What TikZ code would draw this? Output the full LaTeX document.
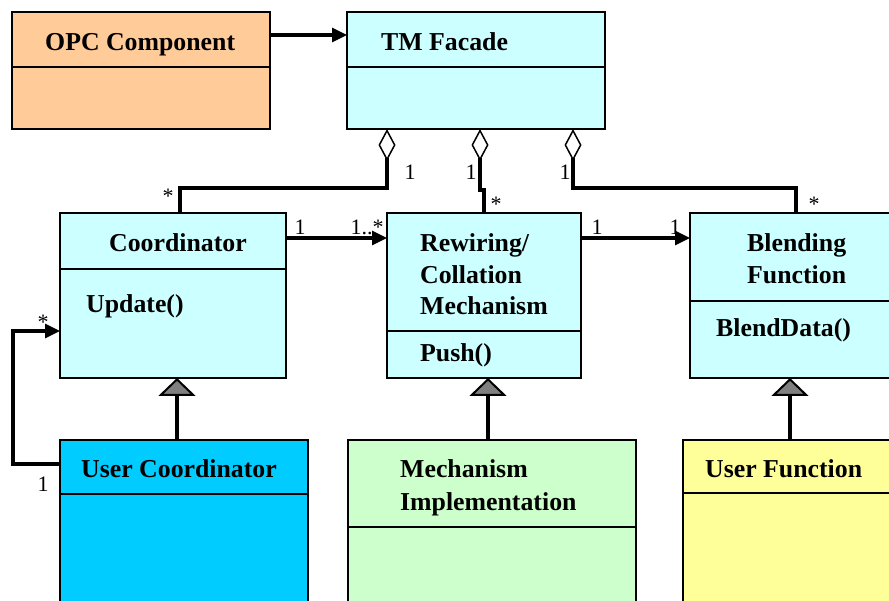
\documentclass[tikz,border=0pt]{standalone}
\usepackage{fontspec}
\setmainfont{Liberation Serif}
\usetikzlibrary{arrows.meta}

\definecolor{paleCyan}{HTML}{CCFFFF}
\definecolor{peach}{HTML}{FFCC99}
\definecolor{skyBlue}{HTML}{00CCFF}
\definecolor{paleGreen}{HTML}{CCFFCC}
\definecolor{paleYellow}{HTML}{FFFF99}
\definecolor{tipGray}{HTML}{808080}

\tikzset{
  classbox/.style={draw=black, line width=1.5pt, rectangle, anchor=north west,
                   inner sep=0pt, outer sep=0pt},
  divider/.style={line width=2pt},
  title/.style={font=\fontsize{25.8}{30}\selectfont\bfseries, anchor=base west, inner sep=0pt},
  mult/.style={font=\fontsize{22}{26}\selectfont, anchor=base, inner sep=0pt},
  link/.style={line width=3.2pt},
  assoc/.style={link, -{Triangle[length=15pt, width=14pt]}},
  aggr/.style={link, -{Diamond[open, length=32pt, width=17pt, line width=1.5pt]}},
  inherit/.style={link, -{Triangle[length=18pt, width=37pt, fill=tipGray, line width=2pt]}},
}

\begin{document}
\begin{tikzpicture}[x=1pt, y=-1pt]
  \useasboundingbox (0,0) rectangle (889,601);
  \clip (0,0) rectangle (889,601);
  \fill[white] (0,0) rectangle (889,601);

  % class boxes
  \node[classbox, fill=peach,      minimum width=258pt, minimum height=117pt] (opc)    at (12,12)   {};
  \node[classbox, fill=paleCyan,   minimum width=258pt, minimum height=117pt] (tm)     at (347,12)  {};
  \node[classbox, fill=paleCyan,   minimum width=226pt, minimum height=165pt] (coord)  at (60,213)  {};
  \node[classbox, fill=paleCyan,   minimum width=194pt, minimum height=165pt] (rew)    at (387,213) {};
  \node[classbox, fill=paleCyan,   minimum width=240pt, minimum height=165pt] (blend)  at (690,213) {};
  \node[classbox, fill=skyBlue,    minimum width=248pt, minimum height=200pt] (ucoord) at (60,440)  {};
  \node[classbox, fill=paleGreen,  minimum width=288pt, minimum height=200pt] (mech)   at (348,440) {};
  \node[classbox, fill=paleYellow, minimum width=240pt, minimum height=200pt] (ufunc)  at (683,440) {};

  % compartment dividers
  \draw[divider] ([yshift=-55pt]opc.north west)    -- ([yshift=-55pt]opc.north east);
  \draw[divider] ([yshift=-55pt]tm.north west)     -- ([yshift=-55pt]tm.north east);
  \draw[divider] ([yshift=-56pt]coord.north west)  -- ([yshift=-56pt]coord.north east);
  \draw[divider] ([yshift=-118pt]rew.north west)   -- ([yshift=-118pt]rew.north east);
  \draw[divider] ([yshift=-88pt]blend.north west)  -- ([yshift=-88pt]blend.north east);
  \draw[divider] ([yshift=-54pt]ucoord.north west) -- ([yshift=-54pt]ucoord.north east);
  \draw[divider] ([yshift=-87pt]mech.north west)   -- ([yshift=-87pt]mech.north east);
  \draw[divider] ([yshift=-53pt]ufunc.north west)  -- ([yshift=-53pt]ufunc.north east);

  % class names and operations
  \node[title] (opcT)   at (45,51)   {OPC Component};
  \node[title] (tmT)    at (381,51)  {TM Facade};
  \node[title] (coordT) at (109,252) {Coordinator};
  \node[title] (coordO) at (86,313)  {Update()};
  \node[title] (rewT1)  at (420,252) {Rewiring/};
  \node[title] (rewT2)  at (420,284) {Collation};
  \node[title] (rewT3)  at (420,315) {Mechanism};
  \node[title] (rewO)   at (420,362) {Push()};
  \node[title] (blendT1) at (747,252) {Blending};
  \node[title] (blendT2) at (747,284) {Function};
  \node[title] (blendO)  at (716,337) {BlendData()};
  \node[title] (ucoordT) at (81,477)  {User Coordinator};
  \node[title] (mechT1)  at (400,477) {Mechanism};
  \node[title] (mechT2)  at (400,510) {Implementation};
  \node[title] (ufuncT)  at (705,477) {User Function};

  % associations
  \draw[assoc] ([yshift=-23pt]opc.north east) -- ([yshift=-23pt]tm.north west);
  \draw[assoc] ([yshift=-25pt]coord.north east) -- ([yshift=-25pt]rew.north west);
  \draw[assoc] ([yshift=-25pt]rew.north east) -- ([yshift=-25pt]blend.north west);
  \draw[assoc] ([yshift=-24pt]ucoord.north west) -- ++(-47,0) |- ([yshift=-118pt]coord.north west);

  % aggregations into the facade
  \draw[aggr] ([xshift=120pt]coord.north west) -- ++(0,-25) -| ([xshift=40pt]tm.south west);
  \draw[aggr] ([xshift=97pt]rew.north west) -- ++(0,-23) -- ++(-4,0) -- ([xshift=133pt]tm.south west);
  \draw[aggr] ([xshift=106pt]blend.north west) -- ++(0,-25) -| ([xshift=226pt]tm.south west);

  % generalisations
  \draw[inherit] ([xshift=117pt]ucoord.north west) -- ([xshift=117pt]coord.south west);
  \draw[inherit] ([xshift=140pt]mech.north west)   -- ([xshift=101pt]rew.south west);
  \draw[inherit] ([xshift=107pt]ufunc.north west)  -- ([xshift=100pt]blend.south west);

  % multiplicities
  \node[mult] (m1)  at (168,204) {*};
  \node[mult] (m2)  at (410,180) {1};
  \node[mult] (m3)  at (471,180) {1};
  \node[mult] (m4)  at (496,212) {*};
  \node[mult] (m5)  at (565,180) {1};
  \node[mult] (m6)  at (814,212) {*};
  \node[mult] (m7)  at (300,235) {1};
  \node[mult] (m8)  at (367,235) {1..*};
  \node[mult] (m9)  at (597,235) {1};
  \node[mult] (m10) at (675,235) {1};
  \node[mult] (m11) at (43,330)  {*};
  \node[mult] (m12) at (43,491)  {1};
\end{tikzpicture}
\end{document}
